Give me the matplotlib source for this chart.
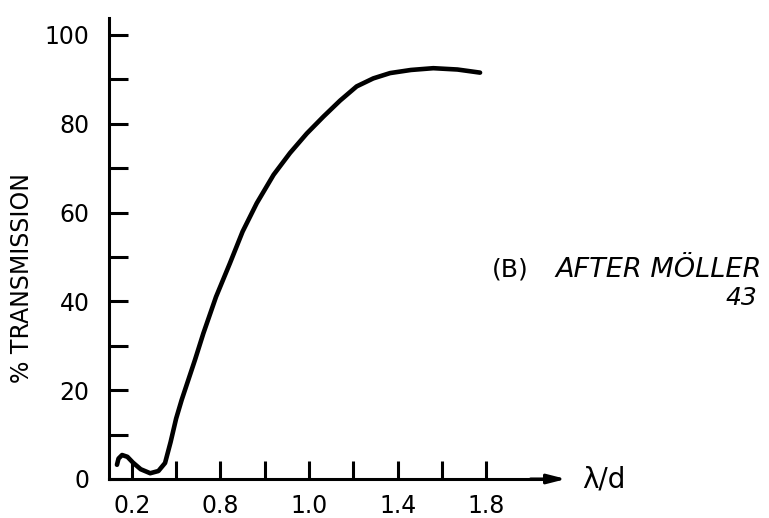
import matplotlib
matplotlib.use("Agg")
import matplotlib.pyplot as plt

# curve (lambda/d vs % transmission)
wl_ratio = [0.133, 0.14, 0.156, 0.18, 0.205, 0.24, 0.283, 0.32, 0.35, 0.375,
            0.40, 0.425, 0.485, 0.523, 0.58, 0.643, 0.70, 0.764, 0.84, 0.914,
            0.99, 1.065, 1.14, 1.215, 1.29, 1.366, 1.46, 1.561, 1.67, 1.772]
transmission = [3.2, 4.6, 5.4, 5.0, 3.7, 2.2, 1.3, 1.8, 3.6, 8.3,
                13.6, 17.8, 26.8, 32.8, 41.0, 48.6, 55.7, 62.1, 68.5, 73.4,
                77.8, 81.6, 85.2, 88.4, 90.2, 91.4, 92.1, 92.5, 92.2, 91.5]

x_ticks = [0.2, 0.4, 0.6, 0.8, 1.0, 1.2, 1.4, 1.6, 1.8]
x_ticklabels = ["0.2", "", "0.8", "", "1.0", "", "1.4", "", "1.8"]
y_ticks = [0, 20, 40, 60, 80, 100]
y_minor = [10, 30, 50, 70, 90]

W, H = 769, 518
fig = plt.figure(figsize=(W / 100, H / 100), dpi=100)
plt.rcParams['font.family'] = ['DejaVu Sans']

# axes placed in pixel terms
x0, y0, x1, y1 = 109, 479, 566, 18
ax = fig.add_axes([x0 / W, 1 - y0 / H, (x1 - x0) / W, (y0 - y1) / H])

xmin, xmax = 0.097, 2.16
ax.set_xlim(xmin, xmax)
ax.set_ylim(0, 103.8)

ax.plot(wl_ratio, transmission, color="black", lw=3.3,
        solid_capstyle="round", solid_joinstyle="round")

for s in ["top", "right"]:
    ax.spines[s].set_visible(False)
ax.spines["left"].set_linewidth(2.2)
ax.spines["bottom"].set_linewidth(2.2)
ax.spines["bottom"].set_bounds(xmin, 2.08)

# arrow head at the end of the x axis
ax.annotate("", xy=(xmax, 0), xytext=(2.0, 0),
            arrowprops=dict(arrowstyle="-|>,head_length=1.1,head_width=0.28",
                            color="black", lw=2.2, shrinkA=0, shrinkB=0),
            annotation_clip=False)

ax.set_xticks(x_ticks)
ax.set_xticklabels(x_ticklabels)
ax.set_yticks(y_ticks)
ax.set_yticks(y_minor, minor=True)
ax.tick_params(axis="x", direction="in", length=13, width=2.2, pad=11,
               labelsize=17)
ax.tick_params(axis="y", which="both", direction="in", length=14, width=2.2,
               pad=14, labelsize=17)

ax.set_ylabel("% TRANSMISSION", fontsize=17)
ax.yaxis.set_label_coords(-0.165, 0.436)

fig.text(582 / W, 1 - 479 / H, "λ/d", fontsize=20, ha="left", va="center")

fig.text(492 / W, 1 - 270 / H, "(B)", fontsize=18, ha="left", va="center")
fig.text(762 / W, 1 - 270 / H, "AFTER MÖLLER", fontsize=19.5, ha="right",
         va="center", style="italic")
fig.text(757 / W, 1 - 298 / H, "43", fontsize=18, ha="right",
         va="center", style="italic")

fig.savefig("out.png", dpi=100)
